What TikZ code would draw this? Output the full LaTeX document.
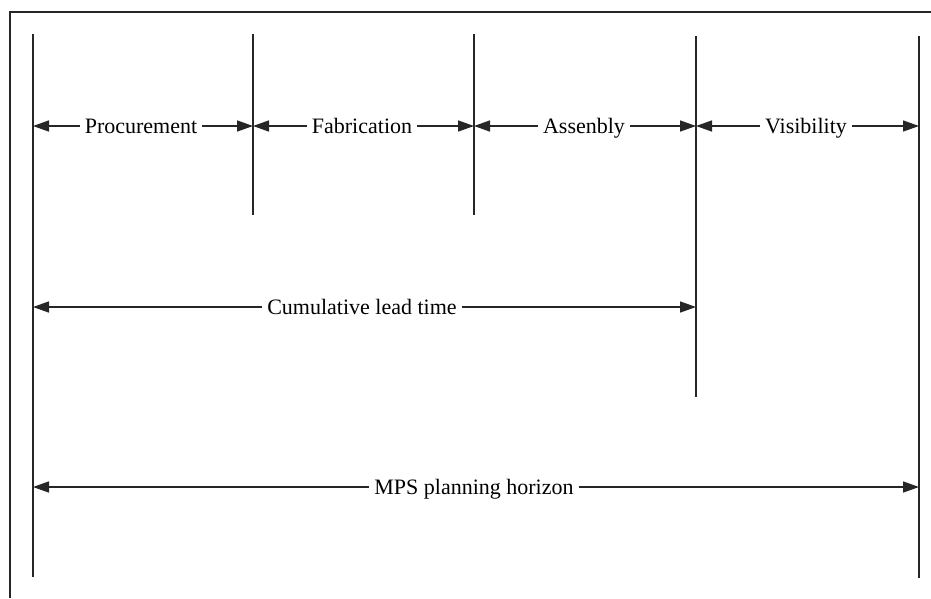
\documentclass[tikz,border=0pt]{standalone}
\usepackage{fontspec}
\setmainfont{Liberation Serif}
\usetikzlibrary{arrows.meta}
\begin{document}
\begin{tikzpicture}[x=1pt,y=-1pt,
  vline/.style={line width=2pt,black!85},
  frame/.style={line width=2.6pt,black!85},
  arr/.style={line width=1.6pt,black!85,-{Triangle[length=16pt,width=11pt]}},
  lbl/.style={font=\fontsize{22}{25}\selectfont,inner xsep=5pt,inner ysep=0pt,text height=14.5pt,text depth=0pt,anchor=center}]
\useasboundingbox (0,0) rectangle (931,598);
% frame (top and left sides only visible)
\draw[frame] (10,598) -- (10,12) -- (931,12);
% vertical lines
\coordinate (v1t) at (33,34);  \coordinate (v1b) at (33,577);
\coordinate (v2t) at (253,34); \coordinate (v2b) at (253,215);
\coordinate (v3t) at (474,34); \coordinate (v3b) at (474,215);
\coordinate (v4t) at (696,36); \coordinate (v4b) at (696,397);
\coordinate (v5t) at (919,36); \coordinate (v5b) at (919,578);
\draw[vline] (v1t) -- (v1b);
\draw[vline] (v2t) -- (v2b);
\draw[vline] (v3t) -- (v3b);
\draw[vline] (v4t) -- (v4b);
\draw[vline] (v5t) -- (v5b);
% labels
\node[lbl] (proc) at (141,126) {Procurement};
\node[lbl] (fab)  at (362,126) {Fabrication};
\node[lbl] (ass)  at (584,126) {Assenbly};
\node[lbl] (vis)  at (806,126) {Visibility};
\node[lbl] (cum)  at (362,307) {Cumulative lead time};
\node[lbl] (mps)  at (474,487) {MPS planning horizon};
% arrows
\draw[arr] (proc.west) -- (v1t |- proc);
\draw[arr] (proc.east) -- (v2t |- proc);
\draw[arr] (fab.west) -- (v2t |- fab);
\draw[arr] (fab.east) -- (v3t |- fab);
\draw[arr] (ass.west) -- (v3t |- ass);
\draw[arr] (ass.east) -- (v4t |- ass);
\draw[arr] (vis.west) -- (v4t |- vis);
\draw[arr] (vis.east) -- (v5t |- vis);
\draw[arr] (cum.west) -- (v1t |- cum);
\draw[arr] (cum.east) -- (v4t |- cum);
\draw[arr] (mps.west) -- (v1t |- mps);
\draw[arr] (mps.east) -- (v5t |- mps);
\end{tikzpicture}
\end{document}
